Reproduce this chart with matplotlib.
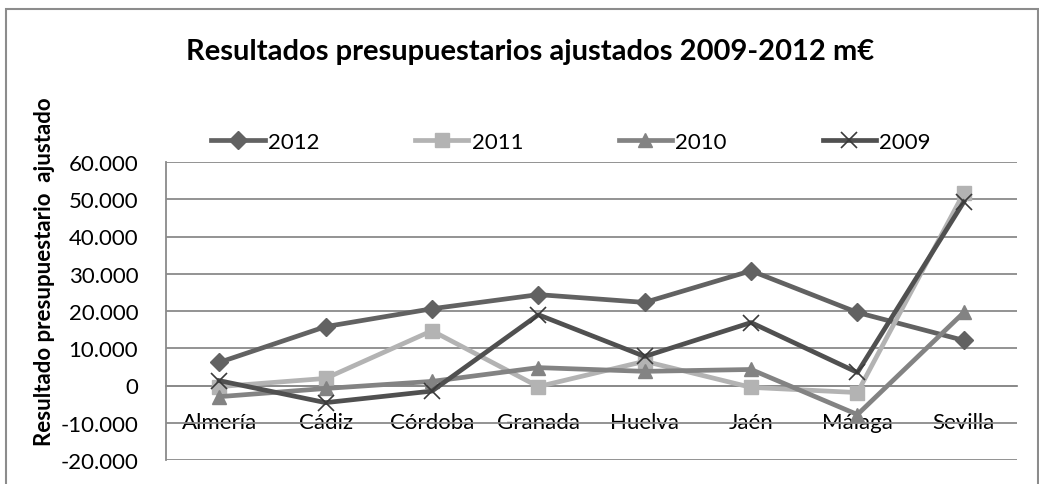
import numpy as np
import matplotlib
matplotlib.use("Agg")
import matplotlib.pyplot as plt
from matplotlib.patches import Rectangle
from matplotlib.ticker import FuncFormatter

plt.rcParams.update({"font.family": ["Lato", "DejaVu Sans"]})

provincias = ["Almería", "Cádiz", "Córdoba", "Granada", "Huelva", "Jaén", "Málaga", "Sevilla"]
v2012 = [6200, 15800, 20600, 24400, 22300, 30800, 19600, 12100]
v2011 = [-300, 1900, 14700, -300, 6500, -500, -1900, 51700]
v2010 = [-3000, -800, 1100, 4800, 3800, 4300, -7800, 19600]
v2009 = [1300, -4600, -1500, 19000, 7800, 16900, 3500, 49300]
yticks = [-20000, -10000, 0, 10000, 20000, 30000, 40000, 50000, 60000]

series = [("2012", v2012, "#626262", "D", 9, 1.0),
          ("2011", v2011, "#b3b3b3", "s", 10, 1.0),
          ("2010", v2010, "#838383", "^", 10, 1.0),
          ("2009", v2009, "#505050", "x", 11, 1.2)]

fig = plt.figure(figsize=(10.39, 4.85), dpi=100)
fig.patches.append(Rectangle((6 / 1039, -0.05), 1032 / 1039, 1.05 - 10 / 485,
                             transform=fig.transFigure, fill=False,
                             edgecolor="#8c8c8c", lw=1.5))
ax = fig.add_axes([166 / 1039, 24 / 485, 851 / 1039, 298 / 485])

x = np.arange(len(provincias))
for lab, vals, col, mk, ms, mew in series:
    if mk == "x":
        ax.plot(x, vals, "-", color=col, lw=3.4, marker=mk, ms=ms,
                mec="#3a3a3a", mew=mew, label=lab, zorder=3)
    else:
        ax.plot(x, vals, "-", color=col, lw=3.4, marker=mk, ms=ms,
                mfc=col, mec=col, label=lab, zorder=3)

ax.set_xlim(-0.5, 7.5)
ax.set_ylim(-20000, 60000)
ax.set_yticks(yticks)
ax.yaxis.set_major_formatter(FuncFormatter(lambda v, p: f"{int(v):,}".replace(",", ".")))
ax.set_xticks(x)
ax.set_xticklabels(provincias)
ax.grid(axis="y", color="#8a8a8a", lw=1.3)
ax.set_axisbelow(True)
for s in ["top", "right"]:
    ax.spines[s].set_visible(False)
ax.spines["left"].set_color("#8a8a8a")
ax.spines["left"].set_linewidth(1.3)
ax.spines["bottom"].set_position(("data", 0))
ax.spines["bottom"].set_color("#8a8a8a")
ax.spines["bottom"].set_linewidth(1.3)
ax.tick_params(axis="x", length=0, pad=19, labelsize=16)
ax.tick_params(axis="y", length=0, pad=20, labelsize=16)

fig.text(530 / 1039, 1 - 52 / 485, "Resultados presupuestarios ajustados 2009-2012 m€",
         ha="center", va="center", fontsize=21, fontweight="bold")
fig.text(45 / 1039, 1 - 272 / 485, "Resultado presupuestario  ajustado",
         rotation=90, ha="center", va="center", fontsize=16, fontweight="bold")

fig.legend(loc="center", bbox_to_anchor=(571 / 1039, 1 - 143 / 485), ncol=4,
           frameon=False, fontsize=16, handlelength=2.4, handletextpad=0.15,
           columnspacing=4.3)

fig.savefig("out.png", dpi=100)
